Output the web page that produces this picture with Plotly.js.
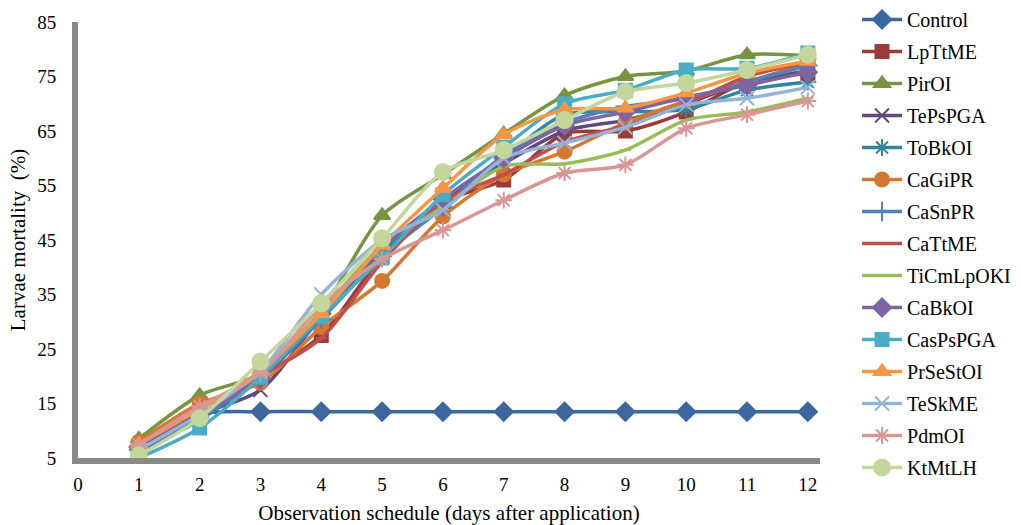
<!DOCTYPE html>
<html>
<head>
<meta charset="utf-8">
<script src="https://cdn.plot.ly/plotly-3.0.1.min.js"></script>
<style>html,body{margin:0;padding:0;background:#fff;}#chart{width:1021px;height:525px;}</style>
</head>
<body>
<div id="chart"></div>
<script>
const days = [1, 2, 3, 4, 5, 6, 7, 8, 9, 10, 11, 12];
const xTickVals = [0, 1, 2, 3, 4, 5, 6, 7, 8, 9, 10, 11, 12];
const yTickVals = [5, 15, 25, 35, 45, 55, 65, 75, 85];

const seriesNames = ["Control", "LpTtME", "PirOI", "TePsPGA", "ToBkOI", "CaGiPR", "CaSnPR", "CaTtME",
  "TiCmLpOKI", "CaBkOI", "CasPsPGA", "PrSeStOI", "TeSkME", "PdmOI", "KtMtLH"];

const control   = [7, 13, 13.5, 13.5, 13.5, 13.5, 13.5, 13.5, 13.5, 13.5, 13.5, 13.5];
const lpTtME    = [7, 14, 20, 27.5, 42, 52, 56, 64.5, 65, 68.5, 74, 75.5];
const pirOI     = [8.5, 16.5, 20.5, 32, 49.5, 57, 64.5, 71.5, 75, 76, 79, 78.8];
const tePsPGA   = [7, 13, 17.5, 31, 43, 52, 59, 65, 67, 70, 74, 76];
const toBkOI    = [6, 12, 20, 31.5, 43, 51, 60, 68, 68.5, 69, 72.5, 74];
const caGiPR    = [8, 15, 18.8, 29, 37.5, 49.3, 57, 61.2, 66.5, 70.5, 74, 77.5];
const caSnPR    = [6.5, 12.5, 19.5, 30.5, 42, 51, 60.5, 66.5, 69.5, 71, 74, 77];
const caTtME    = [6.5, 13, 20, 27, 41, 52, 57, 63, 66, 70, 75, 77.5];
const tiCmLpOKI = [7.5, 14, 20.5, 32, 44, 51, 58.5, 59, 61.5, 67, 68.5, 71];
const caBkOI    = [7, 13, 19.5, 31.5, 43.5, 52.5, 60, 66, 68.5, 71.2, 73.4, 75.8];
const casPsPGA  = [5, 10.5, 19.8, 31, 41.7, 53.3, 62, 70, 72.5, 76.2, 76.5, 79.3];
const prSeStOI  = [7.5, 14, 21, 31.5, 44, 54.5, 64.3, 68.9, 69.2, 72, 75.6, 77.8];
const teSkME    = [6.5, 13, 21, 35, 45, 50.5, 60, 62.8, 65.7, 69.8, 71, 73];
const pdmOI     = [7.5, 14.5, 20.6, 33, 41.5, 46.8, 52.3, 57.3, 58.8, 65.5, 68, 70.5];
const ktMtLH    = [5.5, 12.3, 22.7, 33.4, 45.3, 57.5, 61.5, 67, 72.2, 73.8, 76.2, 79];

const seriesValues = [control, lpTtME, pirOI, tePsPGA, toBkOI, caGiPR, caSnPR, caTtME,
  tiCmLpOKI, caBkOI, casPsPGA, prSeStOI, teSkME, pdmOI, ktMtLH];

const colors = ["#3c679f", "#9b3b37", "#779440", "#5f497a", "#31859c", "#d4782f", "#4f81bd", "#c0504d",
  "#9bbb59", "#8064a2", "#4bacc6", "#f79646", "#95b3d7", "#d99694", "#c3d69b"];
const symbols = ["diamond", "square", "triangle-up", "x-thin-open", "asterisk-open", "circle", "cross-thin-open", "line-ew-open",
  "line-ew-open", "diamond", "square", "triangle-up", "x-thin-open", "asterisk-open", "circle"];
const sizes = [14, 13, 14, 14, 14, 14, 14, 8, 8, 14, 13, 14, 14, 14, 16];

const font = "Liberation Serif, Times New Roman, serif";

const traces = seriesNames.map((name, i) => ({
  type: "scatter",
  mode: "lines+markers",
  name: name,
  legendgroup: "g" + i,
  x: days,
  y: seriesValues[i],
  line: {color: colors[i], width: 3.5, shape: "spline", smoothing: 0.8},
  marker: {symbol: symbols[i], size: sizes[i], color: colors[i], line: {color: colors[i], width: 2}}
}));

const layout = {
  width: 1021, height: 525,
  margin: {l: 78, r: 201, t: 22, b: 67, autoexpand: false},
  paper_bgcolor: "#ffffff", plot_bgcolor: "#ffffff",
  font: {family: font, size: 19, color: "#000000"},
  showlegend: true,
  legend: {
    xref: "container", yref: "container",
    x: 0.8394, y: 1.0, xanchor: "left", yanchor: "top",
    font: {family: font, size: 20, color: "#000000"},
    tracegroupgap: 3, itemwidth: 40, bgcolor: "rgba(0,0,0,0)",
    maxheight: 525
  },
  xaxis: {
    range: [0, 12.2], tickvals: xTickVals, ticktext: xTickVals.map(String),
    showgrid: false, zeroline: false, showline: true, linecolor: "#898989", linewidth: 6,
    ticks: "", ticklen: 0, tickfont: {family: font, size: 19}, ticklabelstandoff: 4,
    title: {text: "Observation schedule (days after application)", font: {family: font, size: 21}, standoff: 16}
  },
  yaxis: {
    range: [5, 85], tickvals: yTickVals, ticktext: yTickVals.map(String),
    showgrid: false, zeroline: false, showline: true, linecolor: "#898989", linewidth: 6,
    ticks: "", ticklen: 0, tickfont: {family: font, size: 19}, ticklabelstandoff: 12,
    title: {text: "Larvae mortality  (%)", font: {family: font, size: 21}, standoff: 8}
  }
};

Plotly.newPlot("chart", traces, layout, {displayModeBar: false, staticPlot: true});
</script>
</body>
</html>
